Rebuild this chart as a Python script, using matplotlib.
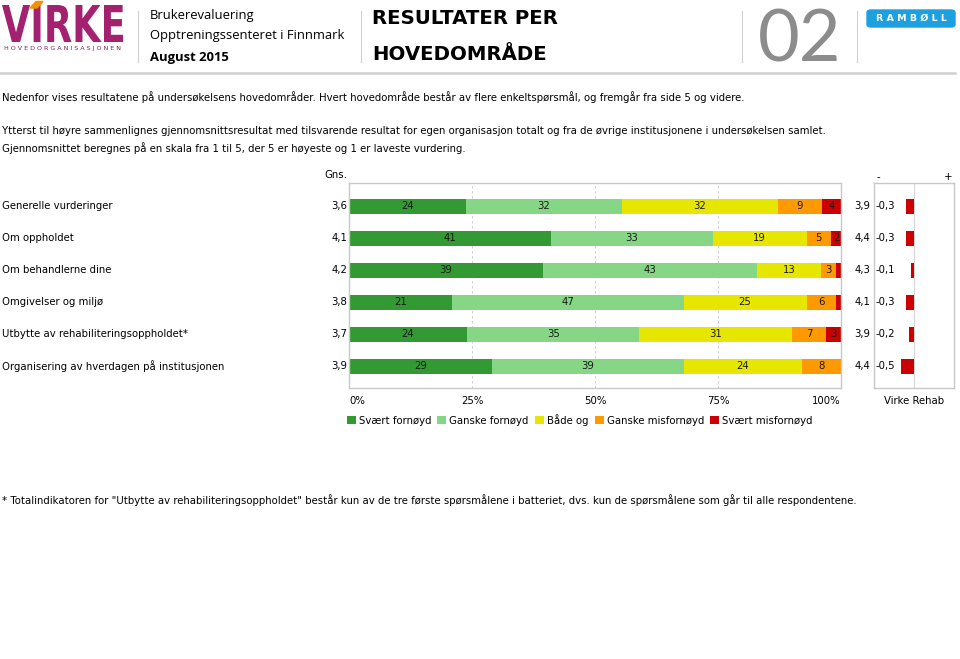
"""Resultater per hovedområde - stacked bars with mean and difference columns."""

import matplotlib

matplotlib.use("Agg")

import matplotlib.pyplot as plt
from matplotlib.font_manager import FontProperties
from matplotlib.patches import FancyBboxPatch, PathPatch, Polygon
from matplotlib.textpath import TextPath
from matplotlib.transforms import Affine2D, IdentityTransform

W, H = 960, 659

categories = [
    "Generelle vurderinger",
    "Om oppholdet",
    "Om behandlerne dine",
    "Omgivelser og miljø",
    "Utbytte av rehabiliteringsoppholdet*",
    "Organisering av hverdagen på institusjonen",
]
series_names = ["Svært fornøyd", "Ganske fornøyd", "Både og", "Ganske misfornøyd", "Svært misfornøyd"]
series_colors = ["#339933", "#85d685", "#e6e600", "#ff9900", "#cc0000"]
svaert_fornoyd = [24, 41, 39, 21, 24, 29]
ganske_fornoyd = [32, 33, 43, 47, 35, 39]
baade_og = [32, 19, 13, 25, 31, 24]
ganske_misfornoyd = [9, 5, 3, 6, 7, 8]
svaert_misfornoyd = [4, 2, 1, 1, 3, 0]
gns_egen = ["3,6", "4,1", "4,2", "3,8", "3,7", "3,9"]
gns_virke = ["3,9", "4,4", "4,3", "4,1", "3,9", "4,4"]
diff_virke = [-0.3, -0.3, -0.1, -0.3, -0.2, -0.5]
x_ticks = [0, 25, 50, 75, 100]
x_ticklabels = ["0%", "25%", "50%", "75%", "100%"]

FONT = "DejaVu Sans"
FS = 7.3
GRID = "#c8c8c8"


def fx(px):
    return px / W


def fy(py):
    return 1 - py / H


def ax_rect(left, top, right, bottom):
    return [fx(left), fy(bottom), (right - left) / W, (bottom - top) / H]


def fmt(v):
    return f"{v:.1f}".replace(".", ",")


fig = plt.figure(figsize=(W / 100, H / 100), dpi=100)
plt.rcParams["font.family"] = FONT

# ---- header ----
# condensed logo word: scale a text path into its box (pixels, top-left origin)
logo = TextPath((0, 0), "VIRKE", size=1, prop=FontProperties(family="DejaVu Sans", weight="bold"))
ext = logo.get_extents()
x0, y0, x1, y1 = 2, 5, 123, 42
logo_tf = Affine2D().translate(-ext.x0, -ext.y0).scale((x1 - x0) / ext.width, (y1 - y0) / ext.height)
logo_tf = logo_tf.translate(x0, H - y1)
fig.add_artist(PathPatch(logo_tf.transform_path(logo), color="#a3216f", lw=0, transform=IdentityTransform()))
fig.text(fx(63), fy(48.5), "H O V E D O R G A N I S A S J O N E N", fontsize=4.6, color="#7d2360",
         va="center", ha="center")
fig.add_artist(Polygon([(fx(30), fy(8)), (fx(36), fy(1.5)), (fx(43), fy(1.5)), (fx(37), fy(8))],
                       closed=True, color="#f39200", transform=fig.transFigure))
for x in (138, 361, 742, 857):
    fig.add_artist(plt.Line2D([fx(x), fx(x)], [fy(62), fy(11)], color="#d0d0d0", lw=0.8))
fig.add_artist(plt.Line2D([0, fx(955)], [fy(73), fy(73)], color="#cfcfcf", lw=1.8))
fig.text(fx(150), fy(15), "Brukerevaluering", fontsize=9.4, family="Open Sans", va="center")
fig.text(fx(150), fy(36), "Opptreningssenteret i Finnmark", fontsize=9.4, family="Open Sans", va="center")
fig.text(fx(150), fy(57), "August 2015", fontsize=9.4, family="Open Sans", fontweight="bold", va="center")
fig.text(fx(372), fy(18), "RESULTATER PER", fontsize=14.2, fontweight="bold", va="center")
fig.text(fx(372), fy(55), "HOVEDOMRÅDE", fontsize=14.2, fontweight="bold", va="center")
fig.text(fx(800), fy(41), "02", fontsize=52, family="Lato", color="#8c8c8c",
         va="center", ha="center")
fig.add_artist(FancyBboxPatch((fx(867), fy(27)), 88 / W, 17 / H,
                              boxstyle="round,pad=0,rounding_size=0.004",
                              color="#1ea0e0", transform=fig.transFigure))
fig.text(fx(911), fy(18.5), "R A M B Ø L L", fontsize=6.8, fontweight="bold", color="white",
         va="center", ha="center")

# ---- intro text ----
fig.text(fx(2), fy(97), "Nedenfor vises resultatene på undersøkelsens hovedområder. Hvert hovedområde består "
         "av flere enkeltspørsmål, og fremgår fra side 5 og videre.", fontsize=FS, va="center")
fig.text(fx(2), fy(131), "Ytterst til høyre sammenlignes gjennomsnittsresultat med tilsvarende resultat for egen "
         "organisasjon totalt og fra de øvrige institusjonene i undersøkelsen samlet.", fontsize=FS, va="center")
fig.text(fx(2), fy(148), "Gjennomsnittet beregnes på en skala fra 1 til 5, der 5 er høyeste og 1 er laveste "
         "vurdering.", fontsize=FS, va="center")
fig.text(fx(2), fy(500), "* Totalindikatoren for \"Utbytte av rehabiliteringsoppholdet\" består kun av de tre "
         "første spørsmålene i batteriet, dvs. kun de spørsmålene som går til alle respondentene.",
         fontsize=FS, va="center")

# ---- main stacked bars ----
top, bottom = 183, 388
row0, step = 206, 32
ylim = ((bottom - row0) / step, -(row0 - top) / step)
bar_h = 15 / step

ax = fig.add_axes(ax_rect(349, top, 841, bottom))
series = [svaert_fornoyd, ganske_fornoyd, baade_og, ganske_misfornoyd, svaert_misfornoyd]
totals = [sum(vals) for vals in zip(*series)]
ypos = list(range(len(categories)))
lefts = [0.0] * len(categories)
for name, vals, color in zip(series_names, series, series_colors):
    widths = [v / t * 100 for v, t in zip(vals, totals)]
    ax.barh(ypos, widths, left=lefts, height=bar_h, color=color, label=name, zorder=2)
    for y, v, w, l in zip(ypos, vals, widths, lefts):
        if v >= 2:
            ax.text(l + w / 2, y, str(v), ha="center", va="center", fontsize=FS, color="#1a1a1a", zorder=3)
    lefts = [l + w for l, w in zip(lefts, widths)]

ax.set_xlim(0, 100)
ax.set_ylim(*ylim)
ax.set_yticks([])
ax.set_xticks(x_ticks)
ax.set_xticklabels(x_ticklabels, fontsize=FS)
tl = ax.get_xticklabels()
tl[0].set_ha("left")
tl[-1].set_ha("right")
ax.tick_params(axis="x", length=0, pad=6)
for x in x_ticks[1:-1]:
    ax.axvline(x, color=GRID, lw=0.6, ls=(0, (3, 3)), zorder=1)
for s in ax.spines.values():
    s.set_color(GRID)
    s.set_linewidth(1.0)
ax.legend(loc="upper left", bbox_to_anchor=(-0.005, -0.125), ncol=5, frameon=False, fontsize=FS,
          handlelength=0.9, handleheight=0.9, handletextpad=0.3, columnspacing=0.6, borderpad=0,
          borderaxespad=0)

# labels and mean columns
for y, cat, g, v in zip(ypos, categories, gns_egen, gns_virke):
    py = row0 + y * step
    fig.text(fx(2), fy(py), cat, fontsize=FS, va="center")
    fig.text(fx(347), fy(py), g, fontsize=FS, va="center", ha="right")
    fig.text(fx(870), fy(py), v, fontsize=FS, va="center", ha="right")
fig.text(fx(347), fy(175), "Gns.", fontsize=FS, va="center", ha="right")

# ---- difference column ----
ax2 = fig.add_axes(ax_rect(874, top, 954, bottom))
ax2.barh(ypos, diff_virke, height=bar_h, color="#cc0000", zorder=2)
ax2.axvline(0, color="#d8d8d8", lw=0.8, zorder=1)
ax2.set_xlim(-1.5, 1.5)
ax2.set_ylim(*ylim)
ax2.set_yticks([])
ax2.set_xticks([0])
ax2.set_xticklabels(["Virke Rehab"], fontsize=FS)
ax2.tick_params(axis="x", length=0, pad=6)
for s in ax2.spines.values():
    s.set_color(GRID)
    s.set_linewidth(1.0)
for y, d in zip(ypos, diff_virke):
    ax2.text(-1.46, y, fmt(d), fontsize=FS, va="center", ha="left")
ax2.text(0.03, 1.005, "-", transform=ax2.transAxes, fontsize=FS, ha="left", va="bottom")
ax2.text(0.98, 1.005, "+", transform=ax2.transAxes, fontsize=FS, ha="right", va="bottom")

fig.savefig("out.png", dpi=100)
